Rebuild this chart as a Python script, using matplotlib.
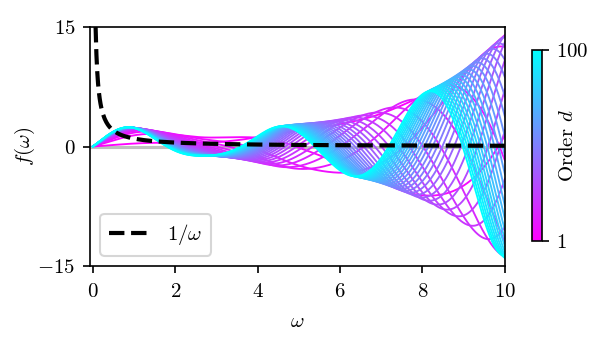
import numpy as np
import matplotlib
matplotlib.use("Agg")
import matplotlib.pyplot as plt
from matplotlib.colors import Normalize
from matplotlib.cm import ScalarMappable

plt.rcParams["font.family"] = "serif"
plt.rcParams["font.serif"] = ["cmr10", "DejaVu Serif"]
plt.rcParams["mathtext.fontset"] = "cm"
plt.rcParams["axes.unicode_minus"] = False
plt.rcParams["font.size"] = 10

# orders shown in the fan
ORDERS = np.arange(1, 101, 3)
# oscillation rate of the lowest / highest order
T_LOW = 0.16
T_HIGH = 1.75
# envelope of the fan
OMEGA_KNOTS = [0.0, 0.8, 1.8, 2.7, 3.6, 4.5, 5.7, 6.9, 8.2, 9.0, 10.0]
AMP_KNOTS = [2.3, 2.6, 1.7, 1.0, 1.5, 2.6, 3.1, 4.3, 7.0, 9.4, 14.0]

omega = np.linspace(0, 10, 801)
# envelope from the read values, lightly smoothed
amp_raw = np.interp(omega, OMEGA_KNOTS, AMP_KNOTS)
k = np.exp(-0.5 * (np.arange(-120, 121) * 0.0125 / 0.3) ** 2)
k /= k.sum()
amp = np.convolve(np.pad(amp_raw, 120, mode="reflect", reflect_type="odd"), k, mode="valid")

rates = T_LOW + (T_HIGH - T_LOW) * np.log(ORDERS) / np.log(100)

fig = plt.figure(figsize=(4.08, 2.34), dpi=150)
ax = fig.add_axes([0.147, 0.242, 0.678, 0.681])
cax = fig.add_axes([0.869, 0.313, 0.016, 0.544])

cmap = plt.get_cmap("cool_r")
norm = Normalize(vmin=1, vmax=100)

ax.axhline(0, color="0.75", lw=1.5, zorder=0)
for d, t in zip(ORDERS, rates):
    ax.plot(omega, amp * np.sin(t * omega), color=cmap(norm(d)), lw=0.9, zorder=1)

w = np.linspace(1 / 15, 10, 500)
ax.plot(w, 1 / w, "k--", lw=2, label=r"$1/\omega$", zorder=3)

ax.set_xlim(-0.07, 10)
ax.set_ylim(-15, 15)
ax.set_xticks([0, 2, 4, 6, 8, 10])
ax.set_xticklabels([r"$%d$" % v for v in [0, 2, 4, 6, 8, 10]])
ax.set_yticks([-15, 0, 15])
ax.set_yticklabels([r"$-15$", r"$0$", r"$15$"])
ax.tick_params(axis="x", pad=4.5)
ax.set_xlabel(r"$\omega$", labelpad=6)
ax.set_ylabel(r"$f(\omega)$", labelpad=0)
ax.legend(loc="lower left")

sm = ScalarMappable(norm=norm, cmap=cmap)
cb = fig.colorbar(sm, cax=cax)
cb.set_ticks([1, 100])
cb.set_ticklabels([r"$1$", r"$100$"])
cb.set_label(r"Order $d$", labelpad=-14)

fig.savefig("out.png", dpi=150)
